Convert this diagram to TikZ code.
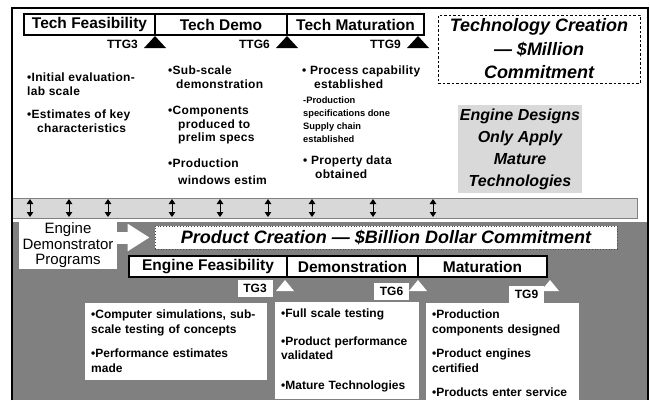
\documentclass[tikz,border=0pt]{standalone}
\usepackage{fontspec}
\setmainfont{Liberation Sans}
\newfontfamily\widesans[LetterSpace=2.5]{Liberation Sans}
\usepackage{xcolor}
\usetikzlibrary{arrows.meta, positioning}

\definecolor{slate}{RGB}{128,128,128}
\definecolor{haze}{RGB}{216,216,216}
\definecolor{mist}{RGB}{217,217,217}

\begin{document}
\begin{tikzpicture}[
  x=1pt, y=-1pt,
  phase/.style={rectangle, draw, line width=1.3pt, fill=white, outer sep=0pt, inner sep=0pt, minimum height=21pt, font=\fontsize{15.5}{18}\selectfont\bfseries},
  note/.style={align=left, inner sep=0pt, anchor=north west, font=\widesans\fontsize{12}{13.5}\selectfont\bfseries},
  tiny/.style={align=left, inner sep=0pt, anchor=north west, font=\fontsize{9.3}{13}\selectfont\bfseries},
  gatelbl/.style={inner sep=0pt, font=\fontsize{12}{13}\selectfont\bfseries},
  tgbox/.style={fill=white, inner sep=0pt, minimum width=35pt, minimum height=17pt, font=\fontsize{12}{13}\selectfont\bfseries},
  slab/.style={fill=white, anchor=north west, align=left, inner xsep=6pt, inner ysep=7pt, font=\fontsize{12}{14.5}\selectfont\bfseries},
  banner/.style={align=center, inner sep=0pt, font=\fontsize{18}{23.5}\selectfont\bfseries\itshape},
  twohead/.style={{Triangle[length=5pt,width=6.5pt]}-{Triangle[length=5pt,width=6.5pt]}, line width=0.9pt}
]
  \useasboundingbox (0,0) rectangle (650,400);

  % panels
  \fill[slate] (12,222) rectangle (648,400);
  \fill[haze] (12,198) rectangle (637,218);
  \draw[gray, line width=0.6pt] (12,198) rectangle (637,218);
  \draw[line width=1.3pt] (12,400) -- (12,8) -- (648,8) -- (648,400);
  \foreach \x in {30,69,108,172,220,268,312,373,433}
    \draw[twohead] (\x,199) -- (\x,217);

  % technology stages
  \node[phase, minimum width=131pt, anchor=west] (tfeas) at (24,24.5) {Tech Feasibility};
  \node[phase, minimum width=132pt, right=0pt of tfeas] (tdemo) {Tech Demo};
  \node[phase, minimum width=137pt, right=0pt of tdemo] (tmat) {Tech Maturation};
  \foreach \x/\n in {155/3, 287/6, 418/9} {
    \fill (\x,36) -- (\x+11,48) -- (\x-11,48) -- cycle;
    \node[gatelbl, anchor=east] (ttg\n) at (\x-17,44) {TTG\n};
  }

  \node[banner, draw, dash pattern=on 2.5pt off 2pt, line width=0.6pt, minimum width=202pt, minimum height=68pt] (techc) at (539,49) {Technology Creation\\— \$Million\\Commitment};
  \node[banner, fill=mist, minimum width=124pt, minimum height=88pt, font=\fontsize{16}{22}\selectfont\bfseries\itshape] (mature) at (520,149) {Engine Designs\\Only Apply\\Mature\\Technologies};

  \node[note] (tf1) at (27,73) {•Initial evaluation-\\lab scale};
  \node[note] (tf2) at (27,110) {•Estimates of key\\\hspace{10pt}characteristics};
  \node[note] (td1) at (168,66) {•Sub-scale\\\hspace{8pt}demonstration};
  \node[note] (td2) at (168,106) {•Components\\\hspace{10pt}produced to\\\hspace{10pt}prelim specs};
  \node[note, font=\widesans\fontsize{12}{17}\selectfont\bfseries] (td3) at (168,159) {•Production\\\hspace{10pt}windows estim};
  \node[note] (tm1) at (302,66) {• Process capability\\\hspace{12pt}established};
  \node[tiny] (tm2) at (303,97) {-Production\\specifications done\\Supply chain\\established};
  \node[note] (tm3) at (303,156) {• Property data\\\hspace{12pt}obtained};

  % product stages
  \node[fill=white, align=center, inner sep=0pt, minimum width=98pt, minimum height=47pt, font=\fontsize{15}{15.5}\selectfont] (demo) at (68,245.5) {Engine\\Demonstrator\\Programs};
  \node[fill=white, draw=black!70, dotted, line width=0.8pt, minimum width=462pt, minimum height=23pt, inner sep=0pt, font=\fontsize{18}{20}\selectfont\bfseries\itshape] (prodc) at (386,237.5) {Product Creation — \$Billion Dollar Commitment};
  \draw[white, line width=12pt, -{Triangle[length=22pt,width=26pt]}, shorten >=5pt] (demo.east |- prodc.west) -- (prodc.west);

  \node[phase, minimum width=158pt, anchor=west] (efeas) at (129,266.5) {Engine Feasibility};
  \node[phase, minimum width=131pt, right=0pt of efeas] (edemo) {Demonstration};
  \node[phase, minimum width=129pt, right=0pt of edemo] (emat) {Maturation};
  \foreach \x/\n/\lx/\ly in {285/3/255/288.5, 418/6/391.5/291, 550/9/526.5/294.5} {
    \fill[white] (\x,280) -- (\x+9,291) -- (\x-9,291) -- cycle;
    \node[tgbox] (tg\n) at (\lx,\ly) {TG\n};
  }

  \node[slab, text width=170pt] (ef) at (85,303) {•Computer simulations, sub-\\scale testing of concepts\\[10pt]•Performance estimates\\made};
  \node[slab, text width=132pt] (ed) at (275,302) {•Full scale testing\\[13pt]•Product performance\\validated\\[15pt]•Mature Technologies};
  \node[slab, text width=141pt] (em) at (426,303) {•Production\\components designed\\[10pt]•Product engines\\certified\\[10pt]•Products enter service};
\end{tikzpicture}
\end{document}
